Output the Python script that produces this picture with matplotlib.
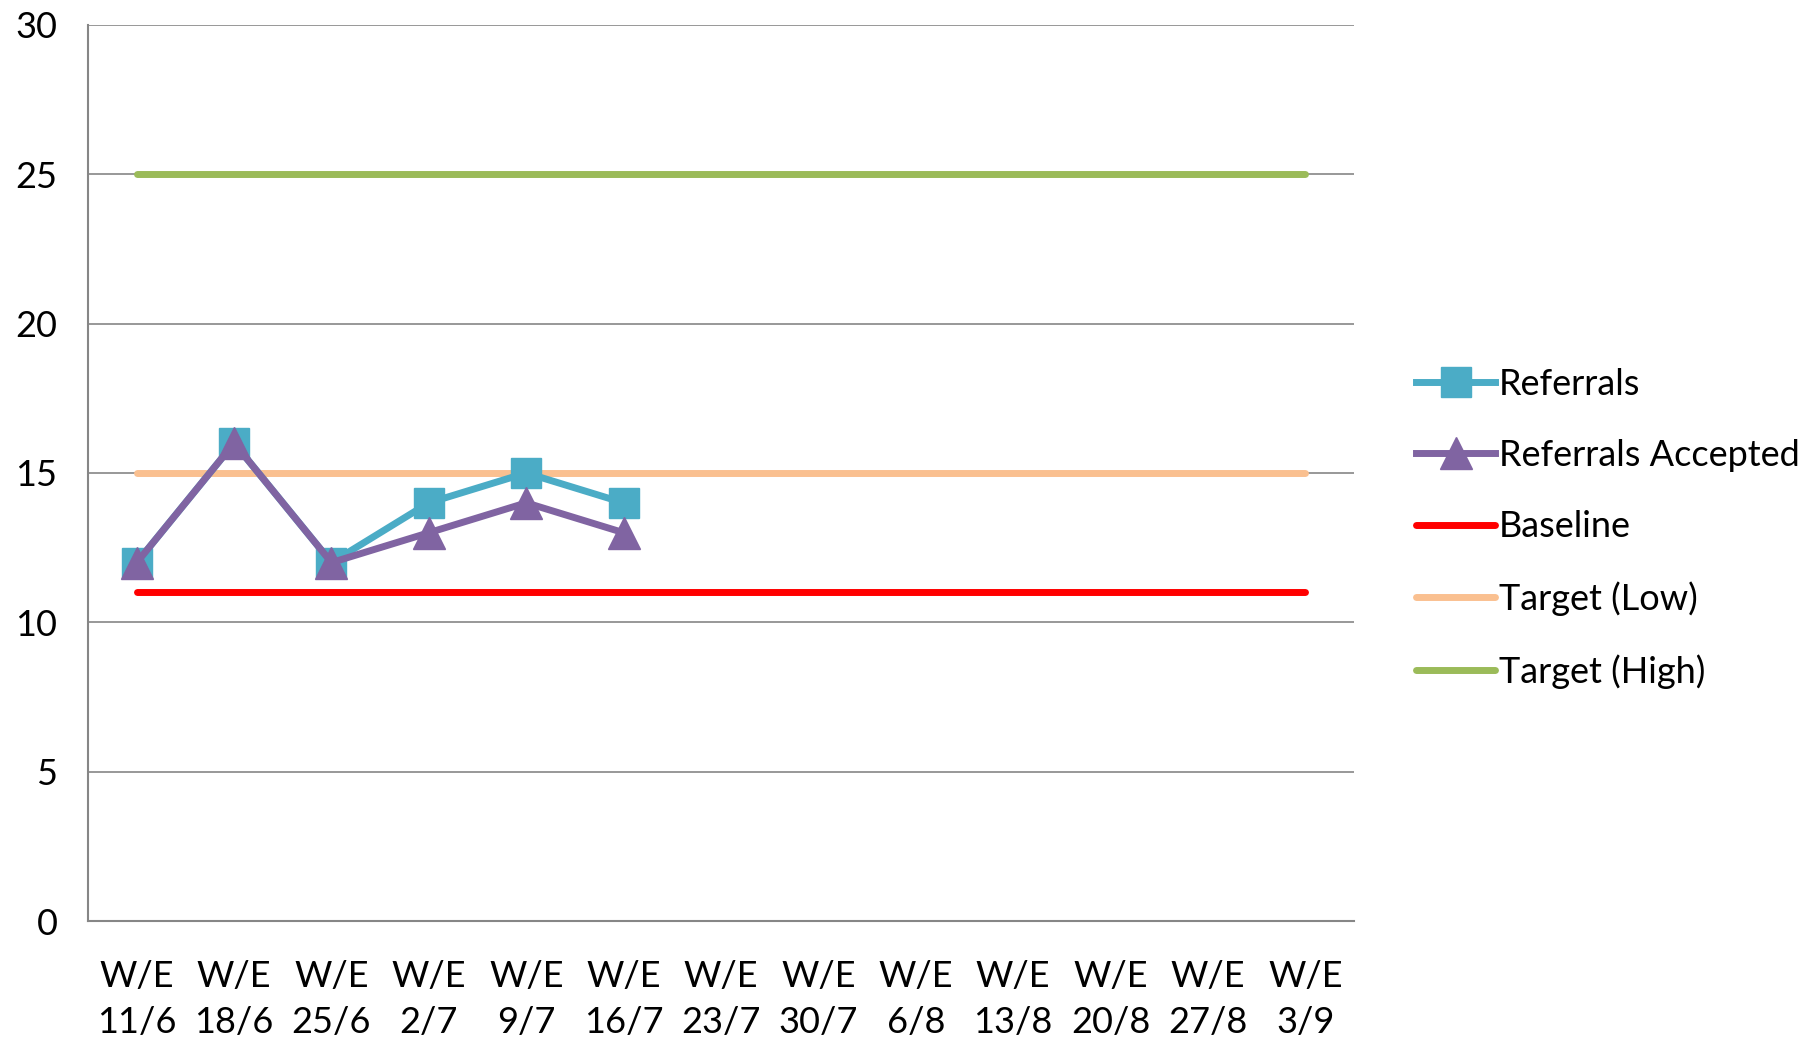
import matplotlib
matplotlib.use("Agg")
import matplotlib.pyplot as plt

# Data
weeks = ["W/E\n11/6", "W/E\n18/6", "W/E\n25/6", "W/E\n2/7", "W/E\n9/7", "W/E\n16/7",
         "W/E\n23/7", "W/E\n30/7", "W/E\n6/8", "W/E\n13/8", "W/E\n20/8", "W/E\n27/8", "W/E\n3/9"]
referrals = [12, 16, 12, 14, 15, 14]
accepted = [12, 16, 12, 13, 14, 13]
baseline = [11] * 13
target_low = [15] * 13
target_high = [25] * 13

plt.rcParams['font.family'] = ['Lato', 'DejaVu Sans']

fig = plt.figure(figsize=(18.12, 10.38), dpi=100)
ax = fig.add_axes([0.0486, 0.1127, 0.6986, 0.8633])

x_all = list(range(len(weeks)))
x_ref = x_all[:len(referrals)]

ax.plot(x_ref, referrals, color="#4BACC6", lw=5, marker="s", markersize=21,
        label="Referrals", zorder=4)
ax.plot(x_ref, accepted, color="#8064A2", lw=5, marker="^", markersize=23,
        label="Referrals Accepted", zorder=5)
ax.plot(x_all, baseline, color="#FF0000", lw=5, label="Baseline", zorder=3,
        solid_capstyle="round")
ax.plot(x_all, target_low, color="#FAC090", lw=5, label="Target (Low)", zorder=3,
        solid_capstyle="round")
ax.plot(x_all, target_high, color="#9BBB59", lw=5, label="Target (High)", zorder=3,
        solid_capstyle="round")

ax.set_xlim(-0.5, 12.5)
ax.set_ylim(0, 30)
ax.set_yticks(range(0, 31, 5))
ax.set_xticks(x_all)
ax.set_xticklabels(weeks, fontsize=26, linespacing=1.5)
ax.tick_params(axis="y", labelsize=26, length=0, pad=22)
ax.tick_params(axis="x", length=0, pad=28)
ax.grid(axis="y", color="#868686", lw=1.2)
ax.set_axisbelow(True)
for s in ["top", "right"]:
    ax.spines[s].set_visible(False)
for s in ["left", "bottom"]:
    ax.spines[s].set_color("#868686")
    ax.spines[s].set_linewidth(1.5)

fig.legend(loc="center left", bbox_to_anchor=(0.7735, 0.491), frameon=False,
           fontsize=26, handlelength=2.2, handletextpad=0.1, labelspacing=1.06,
           borderaxespad=0)

fig.savefig("out.png", dpi=100)
